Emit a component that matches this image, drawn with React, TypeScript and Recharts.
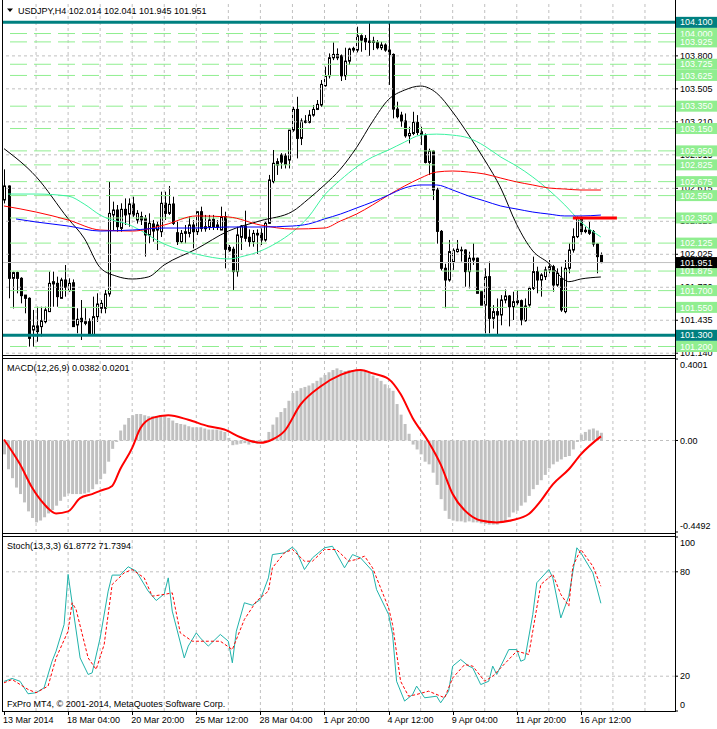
import React from 'react';
import { ComposedChart, Bar, Line, XAxis, YAxis, ReferenceLine } from 'recharts';

// USDJPY H4 candles, bar 0 = 13 Mar 2014
const opens = [
  102.511, 102.636, 101.81, 101.861, 101.81, 101.66, 101.631, 101.348, 101.384, 101.378,
  101.422, 101.512, 101.76, 101.765, 101.631, 101.795, 101.7, 101.77, 101.393, 101.452,
  101.407, 101.422, 101.303, 101.467, 101.542, 101.542, 101.67, 102.377, 102.421, 102.257,
  102.427, 102.385, 102.475, 102.332, 102.362, 102.347, 102.198, 102.296, 102.242, 102.227,
  102.481, 102.391, 102.475, 102.218, 102.138, 102.212, 102.212, 102.287, 102.227, 102.406,
  102.254, 102.272, 102.338, 102.287, 102.242, 102.362, 102.087, 102.07, 101.87, 102.177,
  102.278, 102.177, 102.138, 102.212, 102.212, 102.153, 102.302, 102.675, 102.854, 102.913,
  102.904, 102.868, 103.136, 103.321, 103.062, 103.205, 103.205, 103.27, 103.321, 103.36,
  103.533, 103.622, 103.783, 103.813, 103.801, 103.622, 103.753, 103.852, 103.852, 103.98,
  103.956, 103.932, 103.932, 103.92, 103.873, 103.897, 103.852, 103.813, 103.324, 103.27,
  103.217, 103.085, 103.106, 103.205, 103.121, 103.085, 102.847, 102.948, 102.6, 102.23,
  101.9, 101.795, 101.96, 102.049, 102.057, 102.063, 101.87, 101.974, 101.99, 101.69,
  101.57, 101.825, 101.452, 101.512, 101.482, 101.616, 101.652, 101.556, 101.592, 101.61,
  101.431, 101.571, 101.72, 101.87, 101.795, 101.825, 101.885, 101.914, 101.75, 101.81,
  101.512, 101.9, 102.063, 102.183, 102.347, 102.24, 102.242, 102.227, 102.117, 102.014,
];
const highs = [
  102.785, 102.64, 101.87, 101.87, 101.82, 101.66, 101.64, 101.527, 101.556, 101.556,
  101.556, 101.87, 101.87, 101.825, 101.815, 101.929, 101.81, 101.8, 101.542, 101.616,
  101.542, 101.452, 101.646, 101.676, 101.616, 101.706, 102.675, 102.496, 102.466, 102.481,
  102.525, 102.525, 102.54, 102.42, 102.406, 102.377, 102.391, 102.332, 102.317, 102.585,
  102.585, 102.636, 102.54, 102.317, 102.242, 102.287, 102.362, 102.332, 102.406, 102.451,
  102.377, 102.377, 102.377, 102.332, 102.451, 102.406, 102.108, 102.093, 102.272, 102.287,
  102.415, 102.248, 102.242, 102.248, 102.257, 102.317, 102.735, 102.958, 102.884, 102.93,
  102.928, 103.136, 103.345, 103.434, 103.241, 103.27, 103.315, 103.36, 103.405, 103.584,
  103.703, 103.822, 103.92, 103.867, 103.813, 103.873, 103.873, 103.882, 104.061, 103.992,
  103.986, 104.105, 103.971, 103.941, 103.926, 103.912, 104.11, 103.822, 103.39, 103.3,
  103.285, 103.166, 103.3, 103.27, 103.166, 103.106, 102.97, 102.958, 102.62, 102.242,
  101.94, 102.153, 102.078, 102.153, 102.093, 102.07, 102.048, 102.123, 101.995, 101.695,
  101.9, 101.96, 101.57, 101.63, 101.66, 101.71, 101.66, 101.69, 101.706, 101.62,
  101.63, 101.735, 102.004, 101.914, 101.855, 101.914, 101.974, 101.93, 101.899, 101.914,
  101.974, 102.123, 102.257, 102.362, 102.362, 102.272, 102.317, 102.242, 102.123, 102.041,
];
const lows = [
  102.48, 101.631, 101.54, 101.676, 101.586, 101.497, 101.199, 101.199, 101.243, 101.29,
  101.407, 101.51, 101.556, 101.556, 101.631, 101.646, 101.69, 101.378, 101.318, 101.258,
  101.39, 101.3, 101.3, 101.42, 101.497, 101.497, 101.646, 102.242, 102.227, 102.227,
  102.287, 102.272, 102.36, 102.3, 102.287, 102.004, 102.123, 102.138, 102.063, 102.18,
  102.332, 102.377, 102.287, 102.108, 102.123, 102.123, 102.176, 102.078, 102.198, 102.227,
  102.227, 102.242, 102.242, 102.242, 102.242, 101.899, 102.048, 101.706, 101.825, 102.063,
  102.138, 102.093, 102.093, 102.028, 102.108, 102.138, 102.296, 102.66, 102.735, 102.79,
  102.793, 102.793, 103.121, 102.883, 103.002, 103.196, 103.196, 103.256, 103.315, 103.345,
  103.524, 103.598, 103.762, 103.762, 103.575, 103.584, 103.718, 103.831, 103.831, 103.837,
  103.852, 103.801, 103.852, 103.858, 103.852, 103.837, 103.54, 103.241, 103.241, 103.166,
  103.068, 103.017, 103.091, 103.091, 103.002, 102.838, 102.734, 102.51, 102.12, 101.88,
  101.542, 101.78, 101.885, 102.04, 101.96, 101.735, 101.72, 101.93, 101.676, 101.57,
  101.318, 101.318, 101.36, 101.303, 101.39, 101.586, 101.38, 101.437, 101.57, 101.39,
  101.422, 101.556, 101.705, 101.676, 101.646, 101.795, 101.855, 101.69, 101.735, 101.51,
  101.497, 101.855, 102.04, 102.17, 102.2, 102.213, 102.198, 102.093, 101.855, 101.945,
];
const closes = [
  102.636, 101.81, 101.861, 101.81, 101.655, 101.631, 101.273, 101.384, 101.333, 101.431,
  101.527, 101.765, 101.78, 101.646, 101.795, 101.73, 101.765, 101.378, 101.443, 101.422,
  101.422, 101.303, 101.467, 101.58, 101.586, 101.67, 102.391, 102.421, 102.272, 102.427,
  102.377, 102.475, 102.377, 102.391, 102.332, 102.198, 102.302, 102.233, 102.287, 102.481,
  102.391, 102.472, 102.302, 102.138, 102.212, 102.227, 102.287, 102.227, 102.406, 102.257,
  102.272, 102.332, 102.272, 102.266, 102.362, 102.07, 102.057, 101.87, 102.198, 102.278,
  102.168, 102.138, 102.212, 102.198, 102.153, 102.302, 102.69, 102.839, 102.824, 102.85,
  102.829, 103.136, 103.321, 103.062, 103.217, 103.217, 103.27, 103.321, 103.366, 103.545,
  103.622, 103.783, 103.813, 103.783, 103.622, 103.753, 103.861, 103.867, 103.98, 103.941,
  103.926, 103.92, 103.92, 103.873, 103.897, 103.852, 103.813, 103.324, 103.256, 103.217,
  103.085, 103.106, 103.205, 103.115, 103.097, 102.847, 102.948, 102.6, 102.23, 101.9,
  101.795, 102.049, 102.06, 102.07, 102.063, 101.87, 101.99, 101.99, 101.676, 101.57,
  101.825, 101.452, 101.512, 101.482, 101.616, 101.652, 101.556, 101.601, 101.61, 101.437,
  101.562, 101.72, 101.87, 101.795, 101.84, 101.885, 101.914, 101.75, 101.855, 101.527,
  101.9, 102.063, 102.183, 102.347, 102.228, 102.228, 102.213, 102.117, 102.004, 101.951,
];

// moving averages at sample bars
const maBlackBars = [0, 8, 16, 20, 24, 28, 32, 36, 40, 48, 56, 64, 72, 76, 80, 84, 88, 92, 96, 100, 104, 108, 112, 116, 120, 124, 128, 132, 136, 140, 141, 144, 149];
const maBlackVals = [102.97, 102.72, 102.344, 102.17, 101.906, 101.83, 101.804, 101.822, 101.93, 102.072, 102.233, 102.325, 102.408, 102.52, 102.645, 102.788, 102.98, 103.213, 103.41, 103.494, 103.53, 103.467, 103.298, 103.092, 102.868, 102.618, 102.29, 102.055, 101.945, 101.795, 101.78, 101.804, 101.822];
const maGreenBars = [1, 8, 16, 20, 24, 32, 40, 48, 56, 60, 64, 68, 72, 76, 80, 84, 88, 92, 96, 100, 104, 108, 112, 116, 120, 124, 128, 132, 136, 140, 144, 149];
const maGreenVals = [102.564, 102.564, 102.546, 102.475, 102.376, 102.278, 102.117, 102.027, 101.983, 102.01, 102.054, 102.126, 102.224, 102.359, 102.555, 102.69, 102.806, 102.895, 102.958, 103.029, 103.091, 103.1, 103.091, 103.065, 102.993, 102.895, 102.814, 102.716, 102.6, 102.466, 102.314, 102.18];
const maRedBars = [0, 8, 16, 24, 32, 40, 48, 56, 64, 72, 80, 84, 88, 92, 96, 100, 104, 108, 112, 116, 120, 124, 128, 132, 136, 140, 144, 149];
const maRedVals = [102.457, 102.403, 102.332, 102.242, 102.233, 102.287, 102.368, 102.359, 102.287, 102.251, 102.26, 102.323, 102.385, 102.466, 102.555, 102.636, 102.707, 102.761, 102.77, 102.761, 102.743, 102.707, 102.672, 102.645, 102.618, 102.609, 102.6, 102.6];
const maBlueBars = [3, 8, 16, 24, 32, 40, 48, 56, 64, 72, 76, 80, 84, 88, 92, 96, 100, 104, 108, 112, 116, 120, 124, 128, 132, 136, 140, 144, 149];
const maBlueVals = [102.341, 102.314, 102.278, 102.233, 102.242, 102.26, 102.26, 102.269, 102.269, 102.278, 102.296, 102.341, 102.385, 102.439, 102.493, 102.555, 102.618, 102.645, 102.645, 102.6, 102.546, 102.502, 102.457, 102.43, 102.403, 102.385, 102.368, 102.368, 102.376];

// MACD(12,26,9)
const macdHist = [
  -0.068, -0.141, -0.185, -0.231, -0.263, -0.304, -0.348, -0.38, -0.402, -0.393,
  -0.377, -0.358, -0.341, -0.32, -0.296, -0.276, -0.26, -0.263, -0.263, -0.263,
  -0.26, -0.255, -0.239, -0.215, -0.19, -0.163, -0.104, -0.041, -0.007, 0.049,
  0.078, 0.111, 0.124, 0.13, 0.13, 0.124, 0.119, 0.119, 0.119, 0.124,
  0.119, 0.111, 0.098, 0.086, 0.081, 0.078, 0.07, 0.065, 0.065, 0.065,
  0.059, 0.054, 0.054, 0.054, 0.049, 0.042, 0.013, -0.023, -0.02, -0.016,
  -0.013, -0.02, -0.013, -0.016, -0.013, -0.007, 0.042, 0.078, 0.114, 0.14,
  0.159, 0.195, 0.233, 0.244, 0.257, 0.263, 0.27, 0.281, 0.293, 0.309,
  0.322, 0.335, 0.346, 0.354, 0.346, 0.341, 0.346, 0.346, 0.351, 0.351,
  0.346, 0.335, 0.319, 0.306, 0.293, 0.276, 0.257, 0.244, 0.179, 0.127,
  0.081, 0.033, -0.02, -0.044, -0.068, -0.104, -0.117, -0.158, -0.218, -0.288,
  -0.345, -0.385, -0.393, -0.397, -0.397, -0.402, -0.397, -0.402, -0.402, -0.407,
  -0.41, -0.413, -0.413, -0.413, -0.402, -0.397, -0.377, -0.353, -0.345, -0.32,
  -0.304, -0.272, -0.239, -0.218, -0.195, -0.169, -0.137, -0.117, -0.104, -0.093,
  -0.081, -0.076, -0.044, -0.007, 0.029, 0.042, 0.054, 0.059, 0.049, 0.038,
];
const macdSigBars = [0, 4, 7, 10, 13, 16, 19, 22, 24, 27, 29, 32, 34, 37, 41, 46, 51, 55, 59, 64, 67, 70, 74, 79, 84, 89, 92, 96, 99, 102, 106, 109, 112, 116, 119, 123, 127, 131, 134, 137, 141, 144, 149];
const macdSigVals = [0.005, -0.117, -0.231, -0.312, -0.358, -0.348, -0.283, -0.263, -0.247, -0.223, -0.141, -0.036, 0.059, 0.111, 0.124, 0.102, 0.07, 0.054, 0.016, -0.011, 0.005, 0.046, 0.176, 0.265, 0.322, 0.346, 0.33, 0.302, 0.228, 0.111, -0.007, -0.117, -0.263, -0.361, -0.393, -0.402, -0.39, -0.361, -0.296, -0.215, -0.141, -0.068, 0.0201];

// Stochastic(13,3,3)
const stochMainBars = [0, 2, 4, 6, 8, 10, 12, 13, 15, 16, 17, 19, 21, 22, 24, 26, 27, 29, 31, 33, 36, 38, 40, 41, 42, 45, 46, 48, 49, 51, 54, 56, 57, 58, 60, 62, 64, 66, 67, 70, 72, 73, 75, 77, 80, 82, 85, 87, 89, 92, 93, 96, 97, 98, 100, 102, 103, 105, 108, 109, 111, 112, 114, 116, 117, 119, 121, 122, 123, 126, 128, 129, 130, 132, 133, 136, 137, 139, 141, 143, 144, 147, 149];
const stochMainVals = [17, 18.7, 17.1, 9.9, 10.5, 13.3, 28.6, 34.4, 49.7, 78.5, 62.2, 30.5, 21, 21.9, 42, 68.9, 78.1, 78.1, 82.9, 80.4, 68.9, 63.5, 67.3, 76.5, 57.4, 30.5, 37.3, 44.9, 42, 37.3, 44, 40.1, 27.7, 45.9, 62.2, 60.8, 64.1, 76.5, 89.9, 90.9, 94.2, 91.9, 81.3, 88, 93.8, 94.7, 82.3, 89.9, 88, 80.4, 69.8, 55.5, 44, 17.1, 5.7, 9.5, 14.3, 7.6, 8.5, 4.7, 11.4, 25.8, 29.6, 25.8, 24.8, 15.2, 17.1, 25.8, 21, 35.3, 35.3, 28.6, 29.6, 55.5, 73.7, 81.3, 76.5, 53.5, 66, 93.8, 90.9, 79.4, 61.9];
const stochSigBars = [0, 2, 6, 8, 11, 13, 16, 17, 18, 21, 23, 25, 27, 30, 32, 35, 37, 40, 42, 44, 47, 51, 54, 57, 60, 63, 66, 67, 70, 72, 75, 77, 80, 83, 86, 88, 90, 92, 96, 97, 99, 101, 103, 106, 110, 112, 115, 117, 120, 122, 126, 128, 131, 132, 134, 137, 139, 141, 142, 144, 147, 149];
const stochSigVals = [16.2, 18.1, 12.4, 10.5, 14.3, 30.5, 45.9, 62.2, 58.3, 30.5, 23.9, 38.2, 72.7, 79.4, 81.3, 76.5, 66, 67, 67.9, 44.9, 40.1, 40.1, 40.1, 35.3, 52.6, 63.1, 68.9, 82.3, 90.9, 92.8, 86.1, 86.1, 92.8, 92.8, 86.1, 87.1, 89, 82.3, 59.3, 49.7, 17.1, 8.5, 9.5, 11.4, 7.6, 19, 26.7, 25.8, 17.1, 20, 29.6, 34.4, 32.5, 45.9, 72.7, 78.5, 67, 60.3, 83.2, 92.8, 83.2, 71.7];

// levels and axis labels
const gridLevels = [103.8, 103.505, 103.21, 102.915, 102.615, 102.32, 102.025, 101.73, 101.435, 101.14];
const greenLevels = [104.0, 103.925, 103.725, 103.625, 103.35, 103.15, 102.95, 102.825, 102.675, 102.55, 102.35, 102.125, 101.875, 101.7, 101.55, 101.2];
const tealLevels = [104.1, 101.3];
const lastPrice = 101.951;
const redSegBars = [142, 153];
const redSegPrice = 102.35;
const gridBars = [8, 16, 24, 32, 40, 48, 56, 64, 72, 80, 88, 96, 104, 112, 120, 128, 136, 144, 152, 160];
const dateBars = [0, 16, 32, 48, 64, 80, 96, 112, 128, 144];
const dateLabels = ['13 Mar 2014', '18 Mar 04:00', '20 Mar 20:00', '25 Mar 12:00', '28 Mar 04:00', '1 Apr 20:00', '4 Apr 12:00', '9 Apr 04:00', '11 Apr 20:00', '16 Apr 12:00'];
const macdTicks = [0.4001, 0, -0.4492];
const stochTicks = [100, 80, 20, 0];

const FONT = '"Liberation Sans", Arial, sans-serif';
const W = 717;
const AXIS_W = 42;
const AXIS_X = W - AXIS_W;
const SLOTS = 168;
const TEAL = '#008080';
const LEVEL_GREEN = '#90EE90';
const GRID = '#C0C0C0';

const rows: any[] = Array.from({ length: SLOTS }, (_, i) => {
  const r: any = { i };
  if (i < opens.length) {
    r.open = opens[i];
    r.high = highs[i];
    r.low = lows[i];
    r.close = closes[i];
    r.range = [lows[i], highs[i]];
    r.hist = macdHist[i];
  }
  return r;
});
const put = (key: string, bars: number[], vals: number[]) =>
  bars.forEach((b, k) => {
    rows[b][key] = vals[k];
  });
put('maBlack', maBlackBars, maBlackVals);
put('maGreen', maGreenBars, maGreenVals);
put('maRed', maRedBars, maRedVals);
put('maBlue', maBlueBars, maBlueVals);
put('macdSig', macdSigBars, macdSigVals);
put('stochMain', stochMainBars, stochMainVals);
put('stochSig', stochSigBars, stochSigVals);

function Candle(props: any) {
  const { x, y, width, height, payload } = props;
  if (!payload || payload.high == null || !height) return null;
  const top = Math.min(y, y + height);
  const h = Math.abs(height);
  const ppu = h / (payload.high - payload.low);
  const yOf = (v: number) => top + (payload.high - v) * ppu;
  const cx = Math.round(x + width / 2) + 0.5;
  const bTop = yOf(Math.max(payload.open, payload.close));
  const bBot = yOf(Math.min(payload.open, payload.close));
  const bull = payload.close >= payload.open;
  return (
    <g>
      <line x1={cx} x2={cx} y1={top} y2={top + h} stroke="#000" strokeWidth={1} />
      <rect
        x={cx - 1}
        y={bTop}
        width={2}
        height={Math.max(bBot - bTop, 0.6)}
        fill={bull ? '#fff' : '#000'}
        stroke="#000"
        strokeWidth={1}
      />
    </g>
  );
}

function PriceTick(props: any) {
  const { y, payload } = props;
  const v = payload.value;
  const txt = v.toFixed(3);
  let bg: string | null = null;
  if (tealLevels.includes(v)) bg = TEAL;
  else if (v === lastPrice) bg = '#000';
  else if (greenLevels.includes(v)) bg = LEVEL_GREEN;
  if (bg) {
    return (
      <g>
        <rect x={AXIS_X + 1} y={y - 5.5} width={AXIS_W - 1} height={11} fill={bg} />
        <text x={AXIS_X + 5} y={y} dy="0.35em" fontSize={9} fill="#fff" fontFamily={FONT}>
          {txt}
        </text>
      </g>
    );
  }
  return (
    <g>
      <line x1={AXIS_X} x2={AXIS_X + 3} y1={y} y2={y} stroke="#000" />
      <text x={AXIS_X + 5} y={y} dy="0.35em" fontSize={9} fill="#000" fontFamily={FONT}>
        {txt}
      </text>
    </g>
  );
}

function makeSideTick(format: (v: number) => string, top: number, bottom: number) {
  return (props: any) => {
    const { y, payload } = props;
    const v = payload.value;
    const shift = v === top ? 6 : v === bottom ? -6 : 0;
    return (
      <g>
        <line x1={AXIS_X} x2={AXIS_X + 3} y1={y} y2={y} stroke="#000" />
        <text x={AXIS_X + 5} y={y + shift} dy="0.35em" fontSize={9} fill="#000" fontFamily={FONT}>
          {format(v)}
        </text>
      </g>
    );
  };
}

const macdTick = makeSideTick((v) => (v === 0 ? '0.00' : v.toFixed(4)), 0.4001, -0.4492);
const stochTick = makeSideTick((v) => String(v), 100, 0);

function DateTick(props: any) {
  const { x, payload } = props;
  const k = dateBars.indexOf(payload.value);
  if (k < 0) return null;
  return (
    <g>
      <line x1={Math.round(x) + 0.5} x2={Math.round(x) + 0.5} y1={177} y2={181} stroke="#000" />
      <text x={x - 1} y={186} dy="0.35em" fontSize={9} fill="#000" fontFamily={FONT}>
        {dateLabels[k]}
      </text>
    </g>
  );
}

const vGrid = (
  <>
    {gridBars.map((b) => (
      <ReferenceLine key={`v${b}`} x={b} stroke={GRID} strokeDasharray="3 3" />
    ))}
  </>
);

export default function App() {
  return (
    <div style={{ position: 'absolute', left: 0, top: 0, width: W, height: 729, background: '#fff', fontFamily: FONT }}>
      {/* price pane */}
      <div style={{ position: 'absolute', left: 0, top: 0 }}>
        <ComposedChart width={W} height={357} data={rows} margin={{ top: 2, right: 0, bottom: 2, left: 2 }}>
          <XAxis dataKey="i" type="category" scale="band" hide />
          <YAxis
            orientation="right"
            width={AXIS_W}
            type="number"
            domain={[101.124, 104.282]}
            allowDataOverflow
            ticks={[...gridLevels, ...greenLevels, ...tealLevels, lastPrice]}
            interval={0}
            tick={PriceTick}
            axisLine={false}
            tickLine={false}
          />
          {gridBars.map((b) => (
            <ReferenceLine key={`v${b}`} x={b} stroke={GRID} strokeDasharray="3 3" />
          ))}
          {gridLevels.map((v) => (
            <ReferenceLine key={`g${v}`} y={v} stroke={GRID} strokeDasharray="3 3" />
          ))}
          {greenLevels.map((v) => (
            <ReferenceLine key={`l${v}`} y={v} stroke={LEVEL_GREEN} strokeDasharray="17 7" />
          ))}
          <ReferenceLine y={lastPrice} stroke={GRID} />
          {tealLevels.map((v) => (
            <ReferenceLine key={`t${v}`} y={v} stroke={TEAL} strokeWidth={3} />
          ))}
          <Bar dataKey="range" barSize={3} shape={Candle} isAnimationActive={false} />
          <Line dataKey="maBlack" stroke="#000" strokeWidth={1} dot={false} connectNulls type="monotone" isAnimationActive={false} />
          <Line dataKey="maGreen" stroke="#3CF2A0" strokeWidth={1} dot={false} connectNulls type="monotone" isAnimationActive={false} />
          <Line dataKey="maRed" stroke="#FF0000" strokeWidth={1} dot={false} connectNulls type="monotone" isAnimationActive={false} />
          <Line dataKey="maBlue" stroke="#0000FF" strokeWidth={1} dot={false} connectNulls type="monotone" isAnimationActive={false} />
          <ReferenceLine
            segment={[
              { x: redSegBars[0], y: redSegPrice },
              { x: redSegBars[1], y: redSegPrice },
            ]}
            stroke="#FF0000"
            strokeWidth={3}
          />
        </ComposedChart>
      </div>

      {/* MACD pane */}
      <div style={{ position: 'absolute', left: 0, top: 356 }}>
        <ComposedChart width={W} height={180} data={rows} margin={{ top: 3, right: 0, bottom: 4, left: 2 }}>
          <XAxis dataKey="i" type="category" scale="band" hide />
          <YAxis
            orientation="right"
            width={AXIS_W}
            type="number"
            domain={[-0.4492, 0.4001]}
            allowDataOverflow
            ticks={macdTicks}
            interval={0}
            tick={macdTick}
            axisLine={false}
            tickLine={false}
          />
          {gridBars.map((b) => (
            <ReferenceLine key={`v${b}`} x={b} stroke={GRID} strokeDasharray="3 3" />
          ))}
          <ReferenceLine y={0} stroke={GRID} strokeDasharray="3 3" />
          <Bar dataKey="hist" fill="#C0C0C0" barSize={3} isAnimationActive={false} />
          <Line dataKey="macdSig" stroke="#FF0000" strokeWidth={2} dot={false} connectNulls type="monotone" isAnimationActive={false} />
        </ComposedChart>
      </div>

      {/* Stochastic pane */}
      <div style={{ position: 'absolute', left: 0, top: 534 }}>
        <ComposedChart width={W} height={195} data={rows} margin={{ top: 3, right: 0, bottom: 0, left: 2 }}>
          <XAxis
            dataKey="i"
            type="category"
            scale="band"
            height={18}
            ticks={dateBars}
            interval={0}
            tick={DateTick}
            axisLine={false}
            tickLine={false}
          />
          <YAxis
            orientation="right"
            width={AXIS_W}
            type="number"
            domain={[0, 100]}
            allowDataOverflow
            ticks={stochTicks}
            interval={0}
            tick={stochTick}
            axisLine={false}
            tickLine={false}
          />
          {gridBars.map((b) => (
            <ReferenceLine key={`v${b}`} x={b} stroke={GRID} strokeDasharray="3 3" />
          ))}
          <ReferenceLine y={80} stroke={GRID} strokeDasharray="3 3" />
          <ReferenceLine y={20} stroke={GRID} strokeDasharray="3 3" />
          <Line dataKey="stochMain" stroke="#20B2AA" strokeWidth={1} dot={false} connectNulls type="linear" isAnimationActive={false} />
          <Line dataKey="stochSig" stroke="#FF0000" strokeWidth={1} strokeDasharray="3 2" dot={false} connectNulls type="linear" isAnimationActive={false} />
        </ComposedChart>
      </div>

      {/* frames and captions */}
      <svg width={W} height={729} style={{ position: 'absolute', left: 0, top: 0, pointerEvents: 'none' }}>
        <g stroke="#000" strokeWidth={1}>
          <line x1={2.5} x2={2.5} y1={0} y2={712} />
          <line x1={AXIS_X + 0.5} x2={AXIS_X + 0.5} y1={0} y2={712} />
          <line x1={2} x2={AXIS_X + 1} y1={355.5} y2={355.5} />
          <line x1={2} x2={AXIS_X + 1} y1={358.5} y2={358.5} />
          <line x1={2} x2={AXIS_X + 1} y1={533.5} y2={533.5} />
          <line x1={2} x2={AXIS_X + 1} y1={536.5} y2={536.5} />
          <line x1={2} x2={AXIS_X + 1} y1={711.5} y2={711.5} />
        </g>
        <polygon points="7,8.5 13,8.5 10,12" fill="#000" />
        <text x={18} y={10.5} dy="0.35em" fontSize={9} fill="#000" fontFamily={FONT}>
          USDJPY,H4  102.014 102.041 101.945 101.951
        </text>
        <text x={7} y={367.5} dy="0.35em" fontSize={9} fill="#000" fontFamily={FONT}>
          MACD(12,26,9) 0.0382 0.0201
        </text>
        <text x={7} y={545.5} dy="0.35em" fontSize={9} fill="#000" fontFamily={FONT}>
          Stoch(13,3,3) 61.8772 71.7394
        </text>
        <text x={7} y={703.5} dy="0.35em" fontSize={9} fill="#000" fontFamily={FONT}>
          FxPro MT4, © 2001-2014, MetaQuotes Software Corp.
        </text>
      </svg>
    </div>
  );
}
